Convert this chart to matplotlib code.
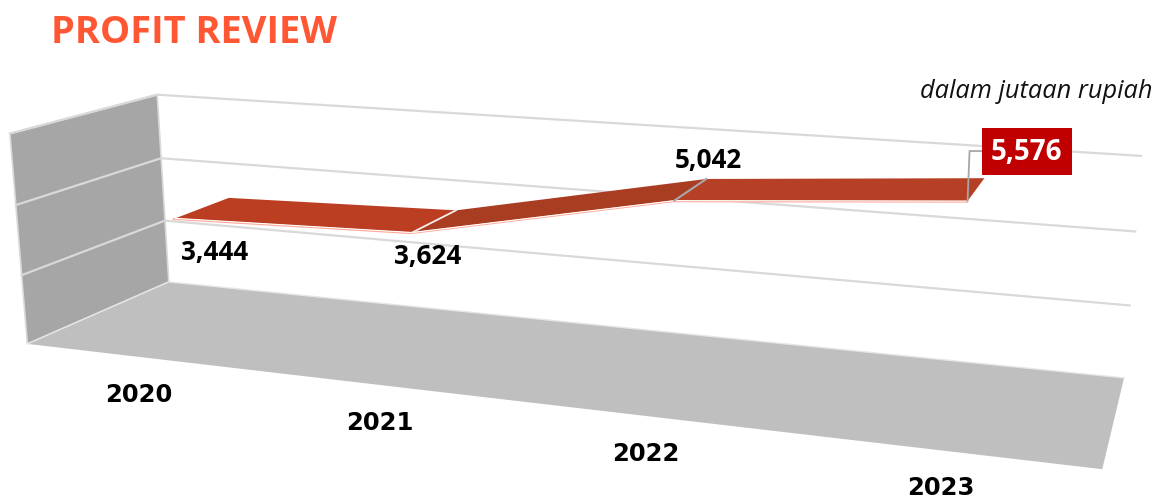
import numpy as np
import matplotlib
matplotlib.use("Agg")
import matplotlib.pyplot as plt
from matplotlib.patches import Polygon, Rectangle

title = "PROFIT REVIEW"
unit_note = "dalam jutaan rupiah"
categories = ["2020", "2021", "2022", "2023"]
profit = [3444, 3624, 5042, 5576]
value_labels = ["3,444", "3,624", "5,042", "5,576"]
axis_max = 6000
axis_step = 2000

# calibration of the 3D box: (across, height, depth) -> pixel
box_3d = np.array([(0,0,0),(0,1,0),(1,0,0),(1,1,0),(0,0,1),(0,1,1),(1,0,1),
                   (0,1/3,0),(0,2/3,0),(1,1/3,0),(1,2/3,0),(0,1/3,1),(0,2/3,1)], float)
box_px = np.array([(169,282),(157,95),(1124,377),(1141,156),(27,344),(10,133),(1102,470),
                   (165,221),(161,158),(1130,305),(1135,232),(22,275),(16,205)], float)
rows = []
for (a,b,c),(x,y) in zip(box_3d, box_px):
    rows.append([a,b,c,1,0,0,0,0,-x*a,-x*b,-x*c,-x])
    rows.append([0,0,0,0,a,b,c,1,-y*a,-y*b,-y*c,-y])
P = np.linalg.svd(np.array(rows))[2][-1].reshape(3,4)

def project(u, v, w):
    h = P @ np.array([u, v, w, 1.0])
    return h[0]/h[2], h[1]/h[2]

GRID = "#D9D9D9"
WALL = "#A6A6A6"
FLOOR = "#BFBFBF"
RIBBON = ["#BB3E23", "#A93D22", "#B64026"]
EDGE = "#FFA898"
W_BACK, W_FRONT = 0.3, 0.7
n = len(categories)
U = [(i + 0.5) / n for i in range(n)]
V = [p / axis_max for p in profit]

fig = plt.figure(figsize=(11.64, 5), dpi=100)
ax = fig.add_axes([0, 0, 1, 1])
ax.set_xlim(0, 1164); ax.set_ylim(500, 0); ax.axis("off")

# walls and floor
ax.add_patch(Polygon([project(0,0,0),project(0,1,0),project(0,1,1),project(0,0,1)],
                     fc=WALL, ec=GRID, lw=1.2, zorder=1))
ax.add_patch(Polygon([project(0,0,0),project(1,0,0),project(1,0,1),project(0,0,1)],
                     fc=FLOOR, ec="none", zorder=1))
ax.plot(*zip(project(0,0,1),project(0,0,0),project(1,0,0)), color="#E6E6E6", lw=1.0, zorder=2)

# gridlines on side and back wall
for g in range(axis_step, axis_max + 1, axis_step):
    v = g / axis_max
    ax.plot(*zip(project(0,v,1), project(0,v,0), project(1,v,0)),
            color=GRID, lw=1.6, solid_joinstyle="miter", zorder=2)

# ribbon
for i in range(n - 1):
    quad = [project(U[i],V[i],W_FRONT), project(U[i],V[i],W_BACK),
            project(U[i+1],V[i+1],W_BACK), project(U[i+1],V[i+1],W_FRONT)]
    ax.add_patch(Polygon(quad, fc=RIBBON[i], ec="none", zorder=3))
front = [project(u, v, W_FRONT + 0.012) for u, v in zip(U, V)]
ax.plot(*zip(*front), color=EDGE, lw=1.3, zorder=4)
ax.plot(*zip(*[project(u, v, W_FRONT) for u, v in zip(U, V)]), color="white", lw=0.8, zorder=4)

# joints
ax.plot(*zip(project(U[1],V[1],W_FRONT), project(U[1],V[1],W_BACK)), color="#F4EDEA", lw=1.3, zorder=5)
ax.plot(*zip(project(U[2],V[2],W_FRONT), project(U[2],V[2],W_BACK)), color="#A8A8A8", lw=1.5, zorder=5)

# leader to the last label
fx, fy = project(U[3], V[3], W_FRONT)
ax.plot([fx, fx + 2, fx + 16], [fy, fy - 50, fy - 50], color="#A6A6A6", lw=1.3, zorder=5)

# value labels, placed from the projected front point of the ribbon
offsets = [(39, 34), (15, 24), (34, -40)]
for i, (dx, dy) in enumerate(offsets):
    x, y = project(U[i], V[i], W_FRONT)
    ax.text(x + dx, y + dy, value_labels[i], ha="center", va="center", fontsize=18.8,
            fontweight="bold", family="Open Sans", color="black", zorder=6)
ax.add_patch(Rectangle((fx + 14, fy - 73), 90, 47, fc="#C00000", ec="none", zorder=6))
ax.text(fx + 59, fy - 49, value_labels[3], ha="center", va="center", fontsize=20,
        fontweight="bold", family="Open Sans", color="white", zorder=7)

# category labels, below the front floor edge
for i, c in enumerate(categories):
    x, y = project(U[i], 0, 1)
    ax.text(x - 1, y + 38, c, ha="center", va="center", fontsize=17.5, fontweight="bold",
            family="DejaVu Sans", color="black")

ax.text(51, 33, title, ha="left", va="center", fontsize=27.4, fontweight="bold",
        family="Open Sans", color="#FF5733")
ax.text(1153, 91, unit_note, ha="right", va="center", fontsize=18.3, style="italic",
        family="Open Sans", color="#111111")

fig.savefig("out.png", dpi=100)
